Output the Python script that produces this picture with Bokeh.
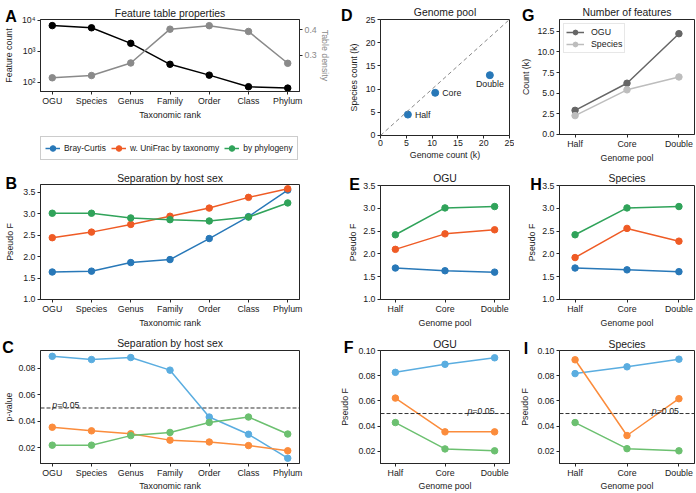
from bokeh.plotting import figure
from bokeh.models import (Range1d, FixedTicker, PrintfTickFormatter, LinearAxis,
                          Label, Legend, LegendItem, Span, Slope, Title)
from bokeh.layouts import row, column
from bokeh.embed import file_html
from bokeh.resources import INLINE

# ---------------- data ----------------
ranks = ["OGU", "Species", "Genus", "Family", "Order", "Class", "Phylum"]
feature_count = [6700, 5700, 1800, 380, 170, 72, 65]
table_density = [0.234, 0.240, 0.276, 0.402, 0.418, 0.392, 0.275]

metrics = ["Bray-Curtis", "w. UniFrac by taxonomy", "by phylogeny"]
sex_F_bray = [1.64, 1.66, 1.86, 1.93, 2.42, 2.93, 3.55]
sex_F_tax = [2.44, 2.57, 2.75, 2.94, 3.13, 3.38, 3.58]
sex_F_phy = [3.01, 3.01, 2.90, 2.86, 2.83, 2.92, 3.25]
sex_p_bray = [0.0889, 0.0865, 0.0880, 0.0785, 0.0432, 0.0302, 0.0122]
sex_p_tax = [0.0355, 0.0328, 0.0306, 0.0258, 0.0244, 0.0217, 0.0178]
sex_p_phy = [0.0220, 0.0220, 0.0292, 0.0316, 0.0391, 0.0432, 0.0304]

pools = ["Half", "Core", "Double"]
genome_count_k = [5.3, 10.6, 21.2]
species_count_k = [4.5, 9.2, 13.0]
n_ogu_k = [2.92, 6.21, 12.22]
n_species_k = [2.28, 5.41, 6.97]

ogu_F_bray = [1.69, 1.63, 1.60]
ogu_F_tax = [2.10, 2.44, 2.53]
ogu_F_phy = [2.42, 3.01, 3.04]
species_F_bray = [1.69, 1.65, 1.61]
species_F_tax = [1.92, 2.56, 2.28]
species_F_phy = [2.42, 3.01, 3.04]
ogu_p_bray = [0.0828, 0.0892, 0.0944]
ogu_p_tax = [0.0623, 0.0354, 0.0354]
ogu_p_phy = [0.0428, 0.0218, 0.0203]
species_p_bray = [0.0818, 0.0872, 0.0933]
species_p_tax = [0.0928, 0.0325, 0.0618]
species_p_phy = [0.0428, 0.0220, 0.0203]
p_threshold = 0.05

# ---------------- style ----------------
FONT = "Liberation Sans"
TICK = "8.8px"
TITLE = "10.4px"
LETTER = "16px"
FS = 8.8
AX = "#262626"
TXT = "#1a1a1a"
DARK = ["#2878b8", "#ef5b25", "#30a35a"]
LIGHT = ["#5aade0", "#fb8c3c", "#6cc070"]
GRAY_A = "#8a8a8a"
G_OGU = "#666666"
G_SP = "#bdbdbd"

H_LETTER, C_LETTER, H_TITLE = 18.0, 7.0, 12.5


def style_axis(ax, color=TXT):
    ax.axis_line_color = AX
    ax.major_tick_line_color = AX
    ax.minor_tick_line_color = None
    ax.major_tick_out = 3
    ax.major_tick_in = 0
    ax.major_label_text_font = FONT
    ax.major_label_text_font_size = TICK
    ax.major_label_text_color = color
    ax.major_label_standoff = 2
    ax.axis_label_text_font = FONT
    ax.axis_label_text_font_size = TICK
    ax.axis_label_text_font_style = "normal"
    ax.axis_label_text_color = color


def make_panel(canvas, frame_ref, xr, yr, y_log=False):
    cx0, cy0, cx1, cy1 = canvas
    L = int(round(frame_ref[0] - cx0))
    T = int(round(frame_ref[1] - cy0))
    R = max(1, int(round(cx1 - frame_ref[2])))
    B = int(round(cy1 - frame_ref[3]))
    p = figure(width=cx1 - cx0, height=cy1 - cy0,
               x_range=Range1d(*xr), y_range=Range1d(*yr),
               y_axis_type="log" if y_log else "linear",
               min_border_left=L, min_border_right=R,
               min_border_top=T, min_border_bottom=B,
               output_backend="svg", toolbar_location=None, tools="")
    p.xgrid.grid_line_color = None
    p.ygrid.grid_line_color = None
    p.outline_line_color = AX
    p.outline_line_width = 1
    p.outline_line_alpha = 1
    p.background_fill_color = "white"
    p.border_fill_color = "white"
    frame = (cx0 + L, cy0 + T, cx1 - R, cy1 - B)
    return p, frame


def head(p, fr, letter_x, letter, text, d_letter, d_title):
    # panel letter first (closest to the frame), then the panel title
    st_l = 2 * (d_letter - 2 - H_LETTER + C_LETTER)
    s_l = 2 + H_LETTER + st_l
    s_t = 2 * (d_title - s_l)
    st_t = s_t - 2 - H_TITLE
    p.add_layout(Title(text=letter, align="left", offset=letter_x - fr[0],
                       vertical_align="top", standoff=st_l, text_font=FONT,
                       text_font_size=LETTER, text_font_style="bold",
                       text_color="black"), "above")
    p.add_layout(Title(text=text, align="center", vertical_align="middle",
                       standoff=st_t, text_font=FONT, text_font_size=TITLE,
                       text_font_style="normal", text_color=TXT), "above")


def labels(p, xlab, ylab, y_standoff, x_standoff=1):
    p.xaxis.axis_label = xlab
    p.xaxis.axis_label_standoff = int(x_standoff)
    p.yaxis.axis_label = ylab
    p.yaxis.axis_label_standoff = int(round(y_standoff))


def cat_x(p, labs):
    p.xaxis.ticker = FixedTicker(ticks=list(range(len(labs))))
    p.xaxis.major_label_overrides = {i: s for i, s in enumerate(labs)}


def finish_axes(p):
    for ax in p.yaxis + p.xaxis:
        style_axis(ax)
    p.xaxis.major_label_standoff = 1


def series(p, xs, ys, color, **kw):
    ln = p.line(xs, ys, line_color=color, line_width=1.5, **kw)
    sc = p.scatter(xs, ys, size=6.5, fill_color=color, line_color=color, **kw)
    return ln, sc


def p_line(p, x_anchor, right):
    p.add_layout(Span(location=p_threshold, dimension="width", line_color="#333333",
                      line_dash="4 2", line_width=1))
    common = dict(y=p_threshold, x=x_anchor, text_baseline="alphabetic", y_offset=2.5,
                  text_font=FONT, text_font_size=TICK, text_color=TXT)
    if right:
        p.add_layout(Label(text="=0.05", text_align="right", **common))
        p.add_layout(Label(text="p", text_align="right", x_offset=-2.53 * FS,
                           text_font_style="italic", **common))
    else:
        p.add_layout(Label(text="p", text_align="left", text_font_style="italic", **common))
        p.add_layout(Label(text="=0.05", text_align="left", x_offset=0.556 * FS, **common))


xs7 = list(range(len(ranks)))
xs3 = list(range(len(pools)))

# ---------------- A ----------------
pA, fA = make_panel((0, 0, 332, 125), (37, 19, 301, 91), (-0.3, 6.3), (50.5, 10540), y_log=True)
pA.extra_y_ranges = {"density": Range1d(0.2009, 0.4477)}
series(pA, xs7, feature_count, "black")
series(pA, xs7, table_density, GRAY_A, y_range_name="density")
cat_x(pA, ranks)
pA.yaxis.ticker = FixedTicker(ticks=[100, 1000, 10000])
pA.yaxis.major_label_overrides = {100: "10²", 1000: "10³", 10000: "10⁴"}
labels(pA, "Taxonomic rank", "Feature count", 5)
finish_axes(pA)
axR = LinearAxis(y_range_name="density", ticker=FixedTicker(ticks=[0.2, 0.3, 0.4]),
                 formatter=PrintfTickFormatter(format="%.1f"))
style_axis(axR, GRAY_A)
axR.axis_label = "Table density"
axR.axis_label_standoff = 0
pA.add_layout(axR, "right")
head(pA, fA, 1.7, "A", "Feature table properties", 5.7, 8.3)

# ---------------- legend strip (shared by B, C, E, F, H, I) ----------------
LEG_W, LEG_H = 332, 40
pL = figure(width=LEG_W, height=LEG_H, x_range=Range1d(0, LEG_W), y_range=Range1d(0, LEG_H),
            x_axis_location=None, y_axis_location=None,
            min_border_left=0, min_border_right=0, min_border_top=0, min_border_bottom=0,
            output_backend="svg", toolbar_location=None, tools="")
pL.xgrid.grid_line_color = None
pL.ygrid.grid_line_color = None
pL.outline_line_color = None
pL.background_fill_color = "white"
pL.border_fill_color = "white"
pL.extra_y_ranges = {"off": Range1d(-20, -10)}   # legend keys only: series kept out of view
leg_items = []
for vals, col, name in zip([sex_F_bray, sex_F_tax, sex_F_phy], DARK, metrics):
    ln, sc = series(pL, xs7, vals, col, y_range_name="off")
    leg_items.append(LegendItem(label=name, renderers=[ln, sc]))
pL.add_layout(Legend(items=leg_items, orientation="horizontal", location=(0, 5),
                     glyph_width=15, glyph_height=14, label_height=14, label_standoff=4,
                     padding=4, margin=0, spacing=5,
                     label_text_font=FONT, label_text_font_size="8.4px",
                     label_text_color=TXT, border_line_color="#9a9a9a",
                     border_line_width=1, background_fill_color="white",
                     background_fill_alpha=1))

# ---------------- B ----------------
pB, fB = make_panel((0, 165, 332, 330), (35.9, 184, 330.1, 302), (-0.3, 6.3), (0.999, 3.68))
for vals, col in zip([sex_F_bray, sex_F_tax, sex_F_phy], DARK):
    series(pB, xs7, vals, col)
cat_x(pB, ranks)
pB.yaxis.ticker = FixedTicker(ticks=[1.0, 1.5, 2.0, 2.5, 3.0, 3.5])
pB.yaxis.formatter = PrintfTickFormatter(format="%.1f")
labels(pB, "Taxonomic rank", "Pseudo F", 5)
finish_axes(pB)
head(pB, fB, 1, "B", "Separation by host sex", 3.0, 7.3)

# ---------------- C ----------------
pC, fC = make_panel((0, 330, 332, 493), (39.5, 350, 330.5, 467), (-0.3, 6.3), (0.0082, 0.0933))
p_line(pC, 0, right=False)
for vals, col in zip([sex_p_bray, sex_p_tax, sex_p_phy], LIGHT):
    series(pC, xs7, vals, col)
cat_x(pC, ranks)
pC.yaxis.ticker = FixedTicker(ticks=[0.02, 0.04, 0.06, 0.08])
pC.yaxis.formatter = PrintfTickFormatter(format="%.2f")
labels(pC, "Taxonomic rank", "p-value", 1, x_standoff=0)
finish_axes(pC)
head(pC, fC, 1.7, "C", "Separation by host sex", 5.3, 8.3)

# ---------------- D ----------------
pD, fD = make_panel((332, 0, 514, 165), (371.7, 19, 509, 135), (-0.01, 25.01), (-0.01, 25.01))
pD.add_layout(Slope(gradient=1, y_intercept=0, line_color="#888888", line_dash="4 3", line_width=1))
pD.scatter(genome_count_k, species_count_k, size=7, fill_color=DARK[0], line_color=DARK[0])
for i, name in enumerate(pools):
    if i == len(pools) - 1:
        pD.add_layout(Label(x=genome_count_k[i], y=species_count_k[i], text=name,
                            text_align="center", text_baseline="top", y_offset=-4,
                            text_font=FONT, text_font_size=TICK, text_color=TXT))
    else:
        pD.add_layout(Label(x=genome_count_k[i], y=species_count_k[i], text=name,
                            text_align="left", text_baseline="middle", x_offset=7,
                            text_font=FONT, text_font_size=TICK, text_color=TXT))
pD.xaxis.ticker = FixedTicker(ticks=[0, 5, 10, 15, 20, 25])
pD.yaxis.ticker = FixedTicker(ticks=[0, 5, 10, 15, 20, 25])
pD.xaxis.formatter = PrintfTickFormatter(format="%d")
pD.yaxis.formatter = PrintfTickFormatter(format="%d")
labels(pD, "Genome count (k)", "Species count (k)", 4)
finish_axes(pD)
head(pD, fD, 332.5, "D", "Genome pool", 5.8, 9.0)


def pool_F_panel(canvas, frame_ref, ttl, data, als, let, letx, dl, dt):
    p, fr = make_panel(canvas, frame_ref, (-0.3, 2.3), (0.999, 3.502))
    for vals, col in zip(data, DARK):
        series(p, xs3, vals, col)
    cat_x(p, pools)
    p.yaxis.ticker = FixedTicker(ticks=[1.0, 1.5, 2.0, 2.5, 3.0, 3.5])
    p.yaxis.formatter = PrintfTickFormatter(format="%.1f")
    labels(p, "Genome pool", "Pseudo F", als)
    finish_axes(p)
    head(p, fr, letx, let, ttl, dl, dt)
    return p


def pool_p_panel(canvas, frame_ref, ttl, data, als, let, letx, dl, dt):
    p, fr = make_panel(canvas, frame_ref, (-0.3, 2.3), (0.0102, 0.1002))
    p_line(p, 2, right=True)
    for vals, col in zip(data, LIGHT):
        series(p, xs3, vals, col)
    cat_x(p, pools)
    p.yaxis.ticker = FixedTicker(ticks=[0.02, 0.04, 0.06, 0.08, 0.10])
    p.yaxis.formatter = PrintfTickFormatter(format="%.2f")
    labels(p, "Genome pool", "Pseudo F", als, x_standoff=0)
    finish_axes(p)
    head(p, fr, letx, let, ttl, dl, dt)
    return p


pE = pool_F_panel((332, 165, 514, 330), (373, 185, 512, 301), "OGU",
                  [ogu_F_bray, ogu_F_tax, ogu_F_phy], 2.5, "E", 341.7, 4.0, 9.0)
pF = pool_p_panel((332, 330, 514, 493), (379.5, 350, 513, 467), "OGU",
                  [ogu_p_bray, ogu_p_tax, ogu_p_phy], 5, "F", 343.3, 6.0, 7.7)

# ---------------- G ----------------
pG, fG = make_panel((514, 0, 696, 165), (551.7, 19, 694, 135), (-0.3, 2.3), (-0.01, 13.94))
g_items = []
for vals, col, name in zip([n_ogu_k, n_species_k], [G_OGU, G_SP], ["OGU", "Species"]):
    ln, sc = series(pG, xs3, vals, col)
    g_items.append(LegendItem(label=name, renderers=[ln, sc]))
legG = Legend(items=g_items, location="top_left", margin=4, padding=2, spacing=0,
              glyph_width=18, glyph_height=12, label_height=12, label_standoff=7,
              label_text_font=FONT, label_text_font_size=TICK, label_text_color=TXT,
              border_line_color="#cfcfcf", border_line_width=1,
              background_fill_color="white", background_fill_alpha=1)
pG.add_layout(legG)
cat_x(pG, pools)
pG.yaxis.ticker = FixedTicker(ticks=[0, 2.5, 5, 7.5, 10, 12.5])
pG.yaxis.formatter = PrintfTickFormatter(format="%.1f")
labels(pG, "Genome pool", "Count (k)", 3)
finish_axes(pG)
head(pG, fG, 514.5, "G", "Number of features", 5.8, 9.0)

pH = pool_F_panel((514, 165, 696, 330), (550.7, 185, 694, 301), "Species",
                  [species_F_bray, species_F_tax, species_F_phy], 2, "H", 521.7, 4.0, 9.0)
pI = pool_p_panel((514, 330, 696, 493), (559.3, 350, 694, 467), "Species",
                  [species_p_bray, species_p_tax, species_p_phy], 4, "I", 523.3, 5.0, 7.7)

layout = row(column(pA, pL, pB, pC), column(pD, pE, pF), column(pG, pH, pI))
open("out.html", "w").write(file_html(layout, INLINE))
